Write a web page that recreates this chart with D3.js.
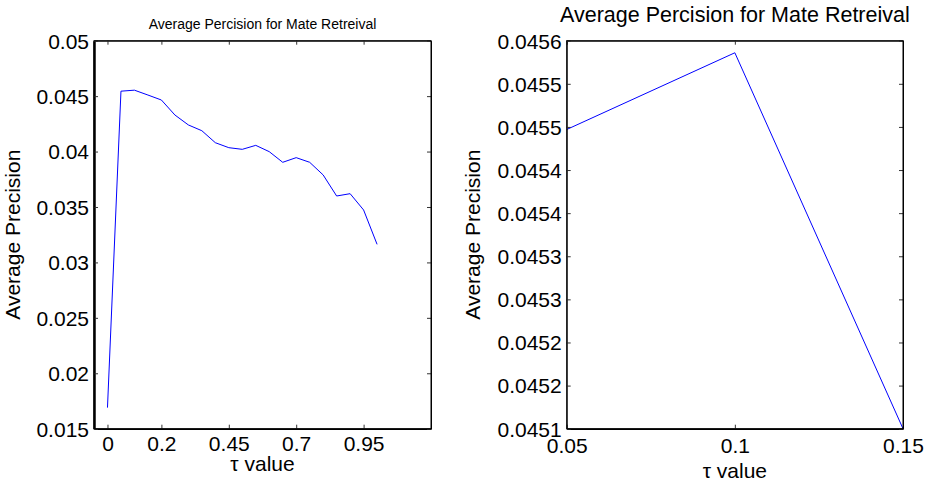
<!DOCTYPE html>
<html>
<head>
<meta charset="utf-8">
<script src="https://cdn.jsdelivr.net/npm/d3@7"></script>
<style>
  body { margin: 0; background: #fff; }
  svg text { font-family: "Liberation Sans", Arial, Helvetica, sans-serif; fill: #000; }
</style>
</head>
<body>
<div id="chart-area"></div>
<script>
// tau values and average precision
var tau = [0, 0.05, 0.1, 0.15, 0.2, 0.25, 0.3, 0.35, 0.4, 0.45, 0.5,
           0.55, 0.6, 0.65, 0.7, 0.75, 0.8, 0.85, 0.9, 0.95, 1.0];
var avgPrecision = [0.0169, 0.045447, 0.045536, 0.045100, 0.04465, 0.04330, 0.04240,
                    0.04188, 0.04080, 0.04035, 0.04020, 0.04056, 0.03999, 0.03903,
                    0.03945, 0.03903, 0.03789, 0.03599, 0.03620, 0.03473, 0.03163];

// left panel ticks
var leftXTicks = [0, 0.2, 0.45, 0.7, 0.95];
var leftXLabels = ["0", "0.2", "0.45", "0.7", "0.95"];
var leftYTicks = [0.015, 0.02, 0.025, 0.03, 0.035, 0.04, 0.045, 0.05];
var leftYLabels = ["0.015", "0.02", "0.025", "0.03", "0.035", "0.04", "0.045", "0.05"];

// right panel (zoom on tau 0.05 - 0.15)
var zoomRange = [1, 4];
var rightXTicks = [0.05, 0.1, 0.15];
var rightXLabels = ["0.05", "0.1", "0.15"];
var rightYTicks = [0.04510, 0.04515, 0.04520, 0.04525, 0.04530, 0.04535, 0.04540, 0.04545, 0.04550, 0.04555];
var rightYLabels = ["0.0451", "0.0452", "0.0452", "0.0453", "0.0453", "0.0454", "0.0454", "0.0455", "0.0455", "0.0456"];

var title = "Average Percision for Mate Retreival";

var svg = d3.select("#chart-area")
    .append("svg")
    .attr("width", 930)
    .attr("height", 482);

function drawPanel(p) {
    var g = svg.append("g")
        .attr("transform", "translate(" + p.left + "," + p.top + ")");

    var x = d3.scaleLinear().domain(p.xDomain).range([0, p.width]);
    var y = d3.scaleLinear().domain(p.yDomain).range([p.height, 0]);

    var tickLen = 4;

    // inward ticks on all four sides
    var xAxisB = d3.axisBottom(x).tickValues(p.xTicks).tickSizeInner(-tickLen).tickSizeOuter(0)
        .tickFormat(function(d, i) { return p.xLabels[i]; });
    var xAxisT = d3.axisTop(x).tickValues(p.xTicks).tickSizeInner(-tickLen).tickSizeOuter(0)
        .tickFormat("");
    var yAxisL = d3.axisLeft(y).tickValues(p.yTicks).tickSizeInner(-tickLen).tickSizeOuter(0)
        .tickFormat(function(d, i) { return p.yLabels[i]; });
    var yAxisR = d3.axisRight(y).tickValues(p.yTicks).tickSizeInner(-tickLen).tickSizeOuter(0)
        .tickFormat("");

    var line = d3.line()
        .x(function(d) { return x(d[0]); })
        .y(function(d) { return y(d[1]); });

    g.append("path")
        .datum(p.data)
        .attr("fill", "none")
        .attr("stroke", "#0000ff")
        .attr("stroke-width", 1)
        .attr("d", line);

    var gb = g.append("g").attr("transform", "translate(0," + p.height + ")").call(xAxisB);
    var gt = g.append("g").call(xAxisT);
    var gl = g.append("g").call(yAxisL);
    var gr = g.append("g").attr("transform", "translate(" + p.width + ",0)").call(yAxisR);

    [gb, gt, gl, gr].forEach(function(a) {
        a.select(".domain").attr("stroke", "#000").attr("stroke-width", 1);
        a.selectAll(".tick line").attr("stroke", "#333");
        a.selectAll(".tick text")
            .style("font-size", "21px")
            .style("font-family", "'Liberation Sans', Arial, sans-serif")
            .attr("fill", "#000");
    });
    gl.select(".domain").attr("stroke-width", p.leftAxisWidth);
    gb.select(".domain").attr("stroke-width", 1.6);

    gb.selectAll(".tick text").attr("y", p.xTickY).attr("dy", "0.71em");
    gl.selectAll(".tick text").attr("x", -5).attr("dy", "0.35em");

    // box corners
    g.append("rect")
        .attr("width", p.width)
        .attr("height", p.height)
        .attr("fill", "none")
        .attr("stroke", "#000")
        .attr("stroke-width", 1);

    g.append("text")
        .attr("x", p.width / 2)
        .attr("y", p.titleY)
        .attr("text-anchor", "middle")
        .style("font-size", p.titleSize + "px")
        .text(title);

    g.append("text")
        .attr("x", p.width / 2)
        .attr("y", p.height + p.xLabelY)
        .attr("text-anchor", "middle")
        .style("font-size", "21px")
        .text("\u03c4 value");

    g.append("text")
        .attr("transform", "translate(" + p.yLabelX + "," + (p.height / 2) + ") rotate(-90)")
        .attr("text-anchor", "middle")
        .style("font-size", "21px")
        .text("Average Precision");
}

var allPoints = tau.map(function(t, i) { return [t, avgPrecision[i]]; });

drawPanel({
    left: 94, top: 40.7, width: 337, height: 388,
    xDomain: [-0.05, 1.2], yDomain: [0.015, 0.05],
    xTicks: leftXTicks, xLabels: leftXLabels,
    yTicks: leftYTicks, yLabels: leftYLabels,
    data: allPoints,
    leftAxisWidth: 2.5,
    titleY: -12, titleSize: 14,
    xTickY: 7, xLabelY: 42, yLabelX: -74
});

drawPanel({
    left: 566.7, top: 40.7, width: 336.3, height: 388,
    xDomain: [0.05, 0.15], yDomain: [0.04510, 0.04555],
    xTicks: rightXTicks, xLabels: rightXLabels,
    yTicks: rightYTicks, yLabels: rightYLabels,
    data: allPoints.slice(zoomRange[0], zoomRange[1]),
    leftAxisWidth: 1,
    titleY: -19, titleSize: 21.5,
    xTickY: 9, xLabelY: 49.5, yLabelX: -87
});
</script>
</body>
</html>
